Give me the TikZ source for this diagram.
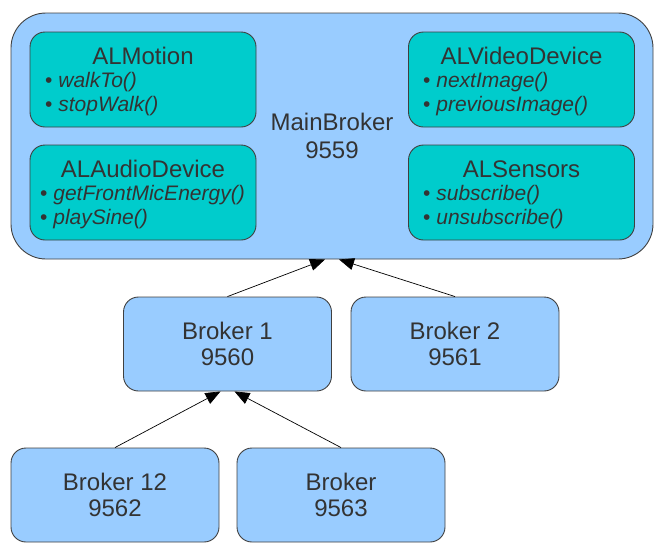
\documentclass[tikz,border=0pt]{standalone}
\usepackage{fontspec}
\setmainfont{Liberation Sans}
\usetikzlibrary{arrows.meta}
\definecolor{lblue}{HTML}{99CCFF}
\definecolor{tealbox}{HTML}{00CCCC}
\definecolor{edgegray}{HTML}{404040}
\definecolor{txt}{HTML}{333333}
\begin{document}
\begin{tikzpicture}[x=1pt,y=-1pt,
 broker/.style={draw=edgegray, fill=lblue, line width=0.9pt, rounded corners=15pt, minimum width=208pt, minimum height=94pt, inner sep=0pt, align=center, text=txt, font=\fontsize{24}{26}\selectfont},
 module/.style={draw=edgegray, fill=tealbox, line width=0.9pt, rounded corners=15pt, minimum width=226pt, minimum height=95pt, inner sep=0pt},
 title/.style={anchor=base, text=txt, font=\fontsize{24}{27}\selectfont, inner sep=0pt},
 item/.style={anchor=base west, text=txt, font=\fontsize{21}{24}\selectfont, inner sep=0pt},
 link/.style={draw=black, line width=0.7pt, -{Triangle[length=15pt,width=12pt]}}
]
\useasboundingbox (0,0) rectangle (666,552);
% main broker
\node[broker, rounded corners=35pt, minimum width=642pt, minimum height=246pt, font=\fontsize{24}{28}\selectfont] (main) at (332,136) {MainBroker\\9559};
% modules
\node[module] (motion) at (143,79.5) {};
\node[title] (motiont) at (143,64.5) {ALMotion};
\node[item] (motion1) at (45,87.5) {• \textit{walkTo()}};
\node[item] (motion2) at (45,111.5) {• \textit{stopWalk()}};

\node[module] (audio) at (143,192.5) {};
\node[title] (audiot) at (143,177.5) {ALAudioDevice};
\node[item] (audio1) at (40,200.5) {• \textit{getFrontMicEnergy()}};
\node[item] (audio2) at (40,224.5) {• \textit{playSine()}};

\node[module] (video) at (521.5,79.5) {};
\node[title] (videot) at (521.5,64.5) {ALVideoDevice};
\node[item] (video1) at (423,87.5) {• \textit{nextImage()}};
\node[item] (video2) at (423,111.5) {• \textit{previousImage()}};

\node[module] (sensors) at (521.5,192.5) {};
\node[title] (sensorst) at (521.5,177.5) {ALSensors};
\node[item] (sensors1) at (423,200.5) {• \textit{subscribe()}};
\node[item] (sensors2) at (423,224.5) {• \textit{unsubscribe()}};

% brokers
\node[broker] (b1) at (227.5,344) {Broker 1\\9560};
\node[broker] (b2) at (455,344) {Broker 2\\9561};
\node[broker] (b12) at (115,495) {Broker 12\\9562};
\node[broker] (b3) at (341,495) {Broker\\9563};

\coordinate (mainL) at ([xshift=-7pt]main.south);
\coordinate (mainR) at ([xshift=7pt]main.south);
\coordinate (b1L) at ([xshift=-7pt]b1.south);
\coordinate (b1R) at ([xshift=7pt]b1.south);

\draw[link] (b1.north) -- (mainL);
\draw[link] (b2.north) -- (mainR);
\draw[link] (b12.north) -- (b1L);
\draw[link] (b3.north) -- (b1R);
\end{tikzpicture}
\end{document}
